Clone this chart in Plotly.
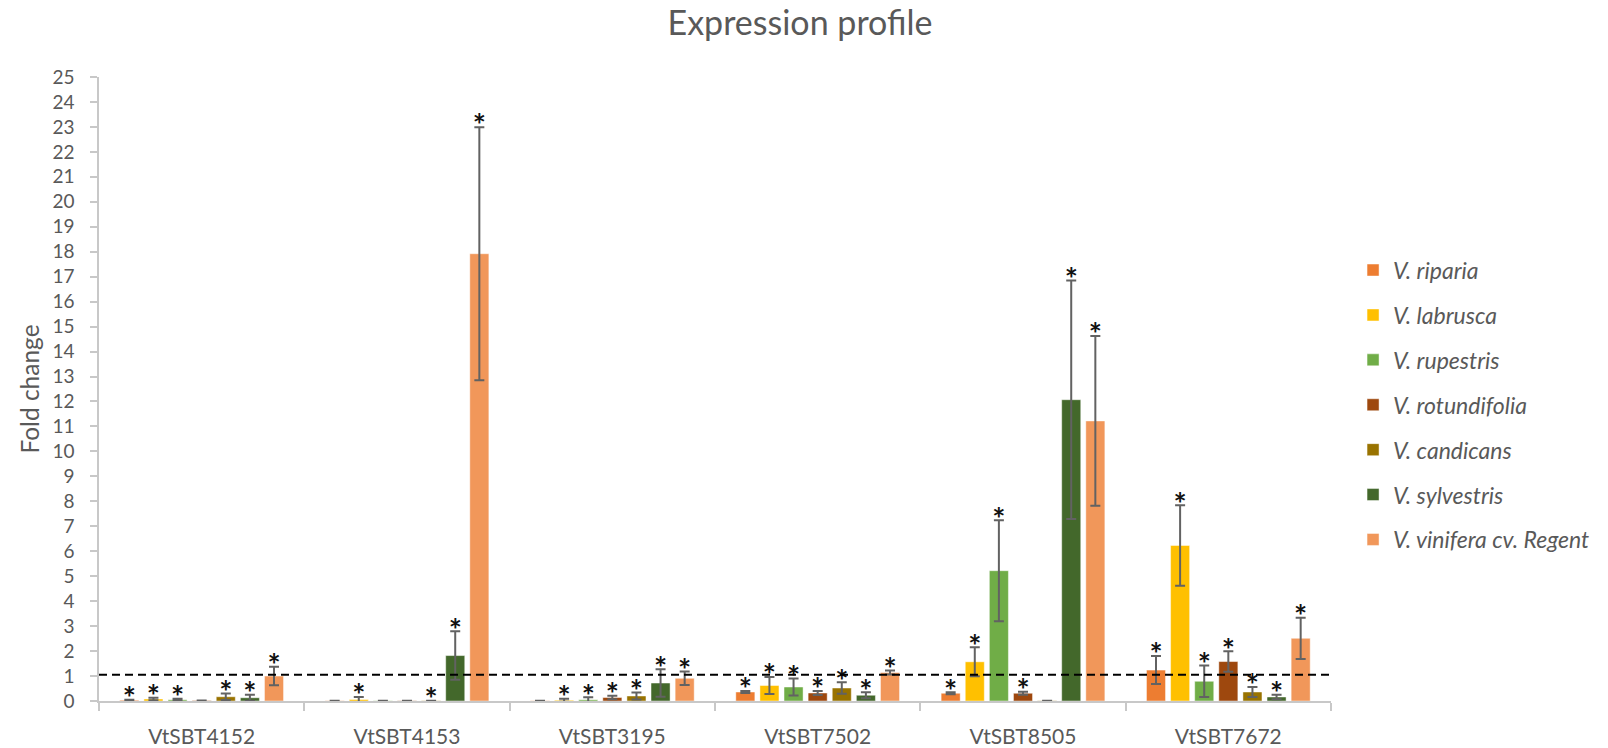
import plotly.graph_objects as go

categories = ["VtSBT4152", "VtSBT4153", "VtSBT3195", "VtSBT7502", "VtSBT8505", "VtSBT7672"]

series_names = ["V. riparia", "V. labrusca", "V. rupestris", "V. rotundifolia",
                "V. candicans", "V. sylvestris", "V. vinifera cv. Regent"]
series_colors = ["#ED7D31", "#FFC000", "#70AD47", "#9E480E", "#997300", "#43682B", "#F1975A"]

riparia = [0.03, 0.01, 0.01, 0.36, 0.31, 1.24]
riparia_err = [0.02, 0.0, 0.0, 0.04, 0.04, 0.56]
riparia_sig = [1, 0, 0, 1, 1, 1]

labrusca = [0.08, 0.06, 0.03, 0.62, 1.57, 6.23]
labrusca_err = [0.05, 0.10, 0.06, 0.34, 0.58, 1.61]
labrusca_sig = [1, 1, 1, 1, 1, 1]

rupestris = [0.05, 0.01, 0.05, 0.56, 5.22, 0.79]
rupestris_err = [0.04, 0.0, 0.10, 0.34, 2.02, 0.63]
rupestris_sig = [1, 0, 1, 1, 1, 1]

rotundifolia = [0.02, 0.01, 0.14, 0.32, 0.31, 1.58]
rotundifolia_err = [0.0, 0.0, 0.07, 0.08, 0.06, 0.41]
rotundifolia_sig = [0, 0, 1, 1, 1, 1]

candicans = [0.17, 0.01, 0.20, 0.52, 0.01, 0.36]
candicans_err = [0.13, 0.0, 0.14, 0.23, 0.0, 0.20]
candicans_sig = [1, 1, 1, 1, 0, 1]

sylvestris = [0.13, 1.82, 0.72, 0.23, 12.07, 0.16]
sylvestris_err = [0.12, 0.97, 0.55, 0.12, 4.78, 0.09]
sylvestris_sig = [1, 1, 1, 1, 1, 1]

vinifera = [1.00, 17.92, 0.91, 1.14, 11.22, 2.51]
vinifera_err = [0.37, 5.07, 0.27, 0.08, 3.40, 0.83]
vinifera_sig = [1, 1, 1, 1, 1, 1]

threshold = 1.05
y_ticks = list(range(0, 26))

values = [riparia, labrusca, rupestris, rotundifolia, candicans, sylvestris, vinifera]
errors = [riparia_err, labrusca_err, rupestris_err, rotundifolia_err, candicans_err,
          sylvestris_err, vinifera_err]
signif = [riparia_sig, labrusca_sig, rupestris_sig, rotundifolia_sig, candicans_sig,
          sylvestris_sig, vinifera_sig]

FONT = "Lato"
GREY = "#595959"
STAR_PAD = -0.06
GAP = 0.178

fig = go.Figure()
for j, name in enumerate(series_names):
    fig.add_trace(go.Bar(
        x=categories, y=values[j], name=name,
        marker=dict(color=series_colors[j], line=dict(color="rgba(255,255,255,0.45)", width=1)),
        error_y=dict(type="data", array=errors[j], visible=True, color="#626262",
                     thickness=2, width=5),
        offsetgroup=str(j), legendgroup=str(j),
    ))
for j, name in enumerate(series_names):
    star_y = [v + e + STAR_PAD if s else None
              for v, e, s in zip(values[j], errors[j], signif[j])]
    fig.add_trace(go.Scatter(
        x=categories, y=star_y, mode="text", text=["*"] * len(categories),
        textposition="middle center",
        textfont=dict(family=FONT, size=31, color="#111111", weight="bold"),
        offsetgroup=str(j), showlegend=False, hoverinfo="skip",
    ))

fig.add_shape(type="line", xref="paper", yref="y", x0=0, x1=1, y0=threshold, y1=threshold,
              line=dict(color="black", width=2, dash="8px,5px"))

fig.update_layout(
    width=1608, height=748,
    margin=dict(l=99, r=277, t=77, b=47, autoexpand=False),
    paper_bgcolor="white", plot_bgcolor="white",
    barmode="group", bargap=GAP, bargroupgap=0.21,
    scattermode="group", scattergap=GAP,
    font=dict(family=FONT, color=GREY),
    title=dict(text="Expression profile", x=0.4975, xref="container", xanchor="center",
               y=0.9689, yref="container", yanchor="middle", automargin=False,
               font=dict(family=FONT, size=34, color=GREY)),
    legend=dict(x=1.0179, xanchor="left", y=0.725, yanchor="top",
                font=dict(family=FONT, size=23, color=GREY, style="italic"),
                tracegroupgap=12, bgcolor="rgba(0,0,0,0)"),
    showlegend=True,
)
fig.update_xaxes(
    type="category", showline=True, linecolor="#C8C8C8", linewidth=1.5,
    ticks="outside", tickson="boundaries", ticklen=8, tickcolor="#C8C8C8", tickwidth=1.5,
    tickfont=dict(family=FONT, size=21, color=GREY), ticklabelstandoff=16,
    showgrid=False, zeroline=False, range=[-0.5, 5.5], automargin=False,
)
fig.update_yaxes(
    range=[0, 25], tickvals=y_ticks, showline=True, linecolor="#C8C8C8", linewidth=1.5,
    ticks="outside", ticklen=7, tickcolor="#C8C8C8", tickwidth=1.5,
    tickfont=dict(family=FONT, size=19, color=GREY), ticklabelstandoff=12,
    showgrid=False, zeroline=False, automargin=False,
    title=dict(text="Fold change", font=dict(family=FONT, size=24.5, color=GREY), standoff=6),
)

# remove the browser's default 8px body margin so the figure fills the window exactly
fig.write_html("out.html", config={"displayModeBar": False},
               post_script="document.body.style.margin='0px';")
